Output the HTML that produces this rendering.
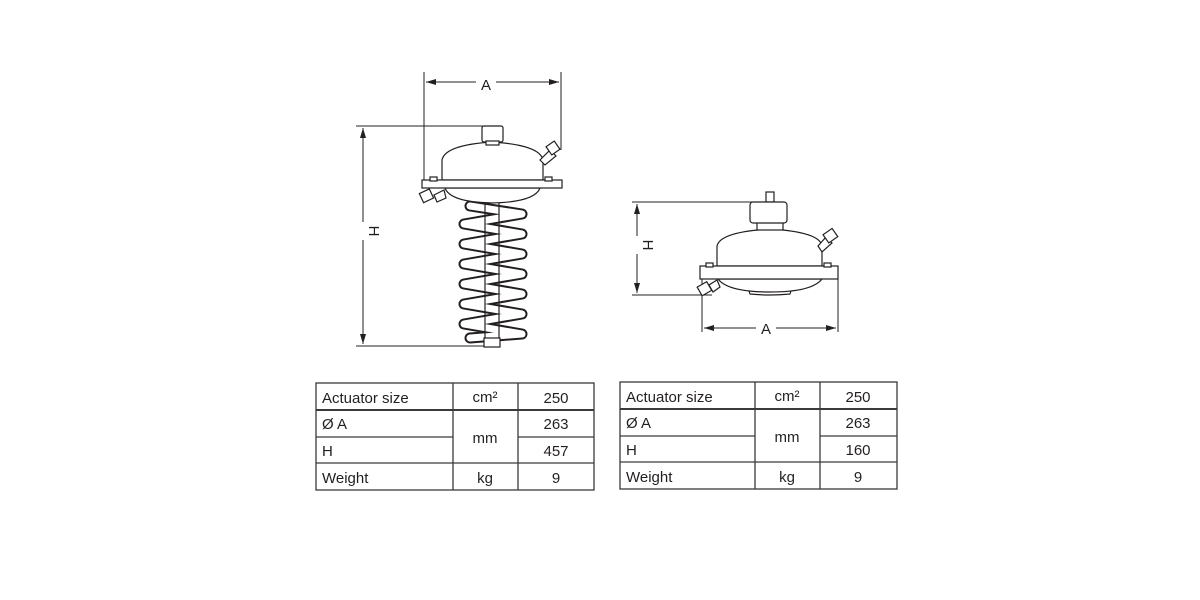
<!DOCTYPE html>
<html><head><style>
body{margin:0;background:#fff;width:1200px;height:600px;overflow:hidden}
svg{display:block}
text{font-family:"Liberation Sans",sans-serif;fill:#231f20}
</style></head><body>
<svg width="1200" height="600" viewBox="0 0 1200 600">
<defs>
<marker id="ar" markerWidth="10" markerHeight="6" refX="10" refY="3" orient="auto-start-reverse" markerUnits="userSpaceOnUse"><path d="M0,0 L10,3 L0,6 z" fill="#231f20"/></marker>
</defs>
<g stroke="#231f20" fill="none" stroke-width="1">
<line x1="424" y1="72" x2="424" y2="180"/>
<line x1="561" y1="72" x2="561" y2="150"/>
<line x1="426" y1="82" x2="476" y2="82" marker-start="url(#ar)"/>
<line x1="496" y1="82" x2="559" y2="82" marker-end="url(#ar)"/>
<line x1="356" y1="126" x2="490" y2="126"/>
<line x1="356" y1="346" x2="500" y2="346"/>
<line x1="363" y1="128" x2="363" y2="222" marker-start="url(#ar)"/>
<line x1="363" y1="240" x2="363" y2="344" marker-end="url(#ar)"/>
</g>
<text x="486" y="90" font-size="15" text-anchor="middle">A</text>
<text x="0" y="0" font-size="15" text-anchor="middle" transform="translate(369,231) rotate(90)">H</text>
<g stroke="#231f20" stroke-width="1.2" fill="#fff">
<polyline points="470,206 522,214 464,224 522,234 464,244 522,254 464,264 522,274 464,284 522,294 464,304 522,314 464,324 522,334 470,338" fill="none" stroke="#231f20" stroke-width="11" stroke-linejoin="round" stroke-linecap="round"/>
<polyline points="470,206 522,214 464,224 522,234 464,244 522,254 464,264 522,274 464,284 522,294 464,304 522,314 464,324 522,334 470,338" fill="none" stroke="#fff" stroke-width="7" stroke-linejoin="round" stroke-linecap="round"/>
<rect x="485" y="200" width="14" height="140" fill="none"/>
<rect x="484" y="338" width="16" height="9"/>
<path d="M445,188 L540,188 Q535,202 492,203 Q450,202 445,188 z"/>
<path d="M442,180 L442,160 Q445,145 492,142 Q540,145 543,160 L543,180 z"/>
<rect x="482" y="126" width="21" height="16" rx="2"/>
<rect x="486" y="141" width="13" height="4"/>
<rect x="422" y="180" width="140" height="8"/>
<rect x="430" y="177" width="7" height="4"/>
<rect x="545" y="177" width="7" height="4"/>
<path d="M540,160 L550,150 L556,156 L545,165 z"/>
<rect x="548" y="143" width="10" height="10" transform="rotate(-35 553 148)"/>
<path d="M444,190 L434,195 L437,202 L446,198 z"/>
<rect x="421" y="191" width="11" height="10" transform="rotate(-25 426 196)"/>
</g>
<g stroke="#231f20" fill="none" stroke-width="1">
<line x1="632" y1="202" x2="765" y2="202"/>
<line x1="632" y1="295" x2="712" y2="295"/>
<line x1="637" y1="204" x2="637" y2="236" marker-start="url(#ar)"/>
<line x1="637" y1="254" x2="637" y2="293" marker-end="url(#ar)"/>
<line x1="702" y1="278" x2="702" y2="332"/>
<line x1="838" y1="278" x2="838" y2="332"/>
<line x1="704" y1="328" x2="756" y2="328" marker-start="url(#ar)"/>
<line x1="776" y1="328" x2="836" y2="328" marker-end="url(#ar)"/>
</g>
<text x="766" y="334" font-size="15" text-anchor="middle">A</text>
<text x="0" y="0" font-size="15" text-anchor="middle" transform="translate(643,245) rotate(90)">H</text>
<g stroke="#231f20" stroke-width="1.2" fill="#fff">
<path d="M748,288 L792,288 L790,294 Q770,296 750,294 z"/>
<path d="M718,279 L822,279 Q812,292 770,292 Q728,292 718,279 z"/>
<path d="M717,266 L717,246 Q720,232 770,229 Q820,232 822,246 L822,266 z"/>
<rect x="757" y="222" width="26" height="8"/>
<rect x="766" y="192" width="8" height="10"/>
<rect x="750" y="202" width="37" height="21" rx="3"/>
<rect x="700" y="266" width="138" height="13"/>
<rect x="706" y="263" width="7" height="4"/>
<rect x="824" y="263" width="7" height="4"/>
<path d="M818,246 L826,237 L832,243 L822,252 z"/>
<rect x="825" y="231" width="11" height="10" transform="rotate(-35 830 236)"/>
<path d="M717,280 L709,285 L713,292 L720,287 z"/>
<rect x="699" y="284" width="11" height="10" transform="rotate(-30 704 289)"/>
</g>
<g stroke="#3a3a3a" fill="none" stroke-width="1.3">
<rect x="316" y="383" width="278" height="107"/>
<line x1="316" y1="410" x2="594" y2="410" stroke-width="2"/>
<line x1="316" y1="437" x2="453" y2="437"/>
<line x1="518" y1="437" x2="594" y2="437"/>
<line x1="316" y1="463" x2="594" y2="463"/>
<line x1="453" y1="383" x2="453" y2="490"/>
<line x1="518" y1="383" x2="518" y2="490"/>
</g>
<g font-size="15">
<text x="322" y="403">Actuator size</text>
<text x="485" y="402" text-anchor="middle">cm²</text>
<text x="556" y="403" text-anchor="middle">250</text>
<text x="322" y="429">Ø A</text>
<text x="485" y="443" text-anchor="middle">mm</text>
<text x="556" y="429" text-anchor="middle">263</text>
<text x="322" y="456">H</text>
<text x="556" y="456" text-anchor="middle">457</text>
<text x="322" y="483">Weight</text>
<text x="485" y="483" text-anchor="middle">kg</text>
<text x="556" y="483" text-anchor="middle">9</text>
</g>
<g stroke="#3a3a3a" fill="none" stroke-width="1.3">
<rect x="620" y="382" width="277" height="107"/>
<line x1="620" y1="409" x2="897" y2="409" stroke-width="2"/>
<line x1="620" y1="436" x2="755" y2="436"/>
<line x1="820" y1="436" x2="897" y2="436"/>
<line x1="620" y1="462" x2="897" y2="462"/>
<line x1="755" y1="382" x2="755" y2="489"/>
<line x1="820" y1="382" x2="820" y2="489"/>
</g>
<g font-size="15">
<text x="626" y="402">Actuator size</text>
<text x="787" y="401" text-anchor="middle">cm²</text>
<text x="858" y="402" text-anchor="middle">250</text>
<text x="626" y="428">Ø A</text>
<text x="787" y="442" text-anchor="middle">mm</text>
<text x="858" y="428" text-anchor="middle">263</text>
<text x="626" y="455">H</text>
<text x="858" y="455" text-anchor="middle">160</text>
<text x="626" y="482">Weight</text>
<text x="787" y="482" text-anchor="middle">kg</text>
<text x="858" y="482" text-anchor="middle">9</text>
</g>
</svg>
</body></html>
